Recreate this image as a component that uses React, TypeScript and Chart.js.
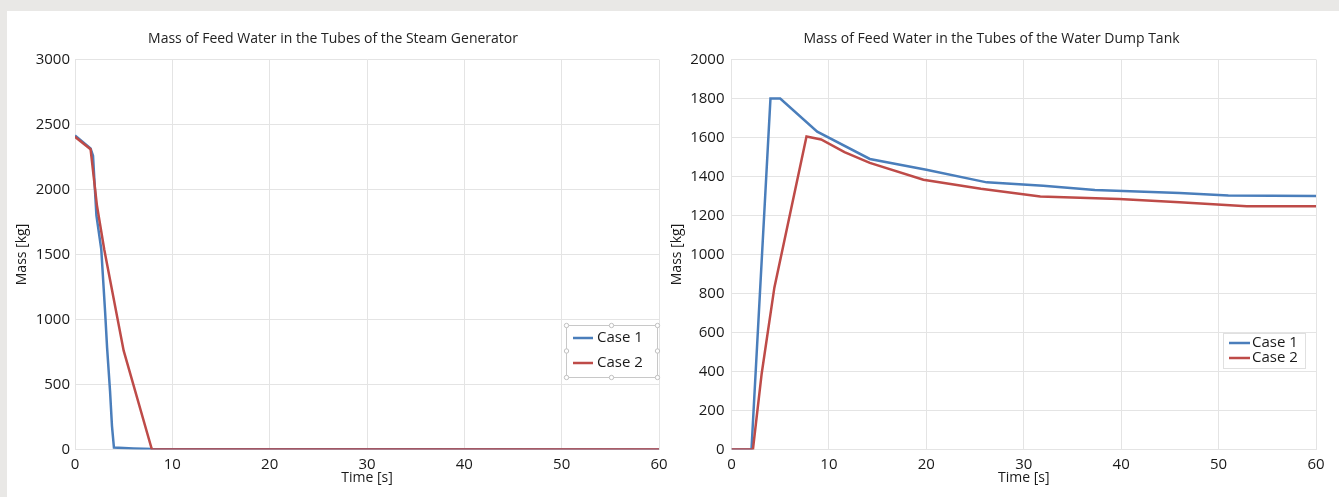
import React, { useEffect, useRef } from "react";
import { Chart, registerables } from "chart.js";

Chart.register(...registerables);

// ---- Data ----
const sgCase1Time = [0, 1.6, 1.85, 2.2, 2.7, 3.1, 3.3, 3.6, 3.8, 4.0, 6, 8, 60];
const sgCase1Mass = [2415, 2315, 2260, 1800, 1540, 1050, 780, 450, 180, 15, 8, 3, 0];
const sgCase2Time = [0, 1.6, 2.25, 3.0, 5.0, 7.9, 60];
const sgCase2Mass = [2405, 2310, 1880, 1540, 760, 0, 0];

const wdCase1Time = [0, 2.05, 4.0, 5.0, 8.8, 14.2, 20, 26.2, 32, 37.3, 46, 51, 60];
const wdCase1Mass = [0, 0, 1800, 1800, 1630, 1490, 1435, 1370, 1352, 1331, 1315, 1303, 1300];
const wdCase2Time = [0, 2.2, 3.1, 4.4, 7.7, 9.2, 11.6, 14.2, 19.7, 25.6, 31.7, 39.8, 46, 52.9, 60];
const wdCase2Mass = [0, 0, 390, 830, 1605, 1590, 1525, 1470, 1383, 1337, 1297, 1285, 1268, 1247, 1247];

const seriesNames = ["Case 1", "Case 2"];
const seriesColors = ["#4a7ebb", "#be4b48"];

const sgTitle = "Mass of Feed Water in the Tubes of the Steam Generator";
const wdTitle = "Mass of Feed Water in the Tubes of the Water Dump Tank";
const xTitle = "Time [s]";
const yTitle = "Mass [kg]";

const toPoints = (t: number[], m: number[]) => t.map((x, i) => ({ x, y: m[i] }));

Chart.defaults.font.family = "'Open Sans', 'Noto Sans', sans-serif";

type LegendCfg = {
  box: [number, number, number, number];
  rows: number[];
  lineX: [number, number];
  textX: number;
  handles: boolean;
  fontSize: number;
};

function legendPlugin(cfg: LegendCfg) {
  return {
    id: "customLegend",
    afterDraw(chart: any) {
      const ctx = chart.ctx as CanvasRenderingContext2D;
      const [bx, by, bw, bh] = cfg.box;
      ctx.save();
      ctx.fillStyle = "#ffffff";
      ctx.fillRect(bx, by, bw, bh);
      ctx.strokeStyle = cfg.handles ? "#c8c8c8" : "#e0e0e0";
      ctx.lineWidth = 1;
      ctx.strokeRect(bx + 0.5, by + 0.5, bw, bh);
      if (cfg.handles) {
        const hx = [bx + 0.5, bx + bw / 2, bx + bw + 0.5];
        const hy = [by + 0.5, by + bh / 2, by + bh + 0.5];
        ctx.fillStyle = "#ffffff";
        ctx.strokeStyle = "#c0c0c0";
        hx.forEach((x, i) =>
          hy.forEach((y, j) => {
            if (i === 1 && j === 1) return;
            ctx.beginPath();
            ctx.arc(x, y, 2.2, 0, Math.PI * 2);
            ctx.fill();
            ctx.stroke();
          })
        );
      }
      ctx.font = `${cfg.fontSize}px 'Open Sans', 'Noto Sans', sans-serif`;
      ctx.textBaseline = "middle";
      ctx.textAlign = "left";
      cfg.rows.forEach((y, i) => {
        ctx.strokeStyle = seriesColors[i];
        ctx.lineWidth = 2.5;
        ctx.beginPath();
        ctx.moveTo(cfg.lineX[0], y);
        ctx.lineTo(cfg.lineX[1], y);
        ctx.stroke();
        ctx.fillStyle = "#1a1a1a";
        ctx.fillText(seriesNames[i], cfg.textX, y);
      });
      ctx.restore();
    },
  };
}

type PanelProps = {
  left: number;
  width: number;
  title: string;
  data1: { x: number; y: number }[];
  data2: { x: number; y: number }[];
  yMax: number;
  yStep: number;
  yAxisWidth: number;
  yTitlePad: number;
  yTickPad: number;
  padRight: number;
  legend: LegendCfg;
};

function Panel(p: PanelProps) {
  const ref = useRef<HTMLCanvasElement | null>(null);
  useEffect(() => {
    if (!ref.current) return;
    const gridColor = "#e4e4e4";
    const chart = new Chart(ref.current, {
      type: "line",
      data: {
        datasets: [
          {
            label: seriesNames[0],
            data: p.data1,
            borderColor: seriesColors[0],
            backgroundColor: seriesColors[0],
            borderWidth: 2.5,
            pointRadius: 0,
            tension: 0,
            order: 1,
          },
          {
            label: seriesNames[1],
            data: p.data2,
            borderColor: seriesColors[1],
            backgroundColor: seriesColors[1],
            borderWidth: 2.5,
            pointRadius: 0,
            tension: 0,
            order: 0,
          },
        ],
      },
      options: {
        responsive: false,
        animation: false,
        layout: { padding: { left: 0, right: p.padRight, top: 0, bottom: 0 } },
        plugins: {
          legend: { display: false },
          tooltip: { enabled: false },
          title: {
            display: true,
            text: p.title,
            color: "#222",
            font: { size: 14, weight: "normal" },
            padding: { top: 20, bottom: 11.7 },
          },
        },
        scales: {
          x: {
            type: "linear",
            min: 0,
            max: 60,
            ticks: {
              stepSize: 10,
              color: "#1a1a1a",
              font: { size: 15 },
              padding: 6,
              maxRotation: 0,
              callback: (v: any) => String(v),
            },
            grid: { color: gridColor, drawTicks: false },
            border: { color: gridColor },
            title: {
              display: true,
              text: xTitle,
              color: "#1a1a1a",
              font: { size: 14 },
              padding: { top: 0, bottom: 10.6 },
            },
            afterFit: (s: any) => {
              s.height = 47.5;
              s.paddingLeft = 0;
              s.paddingRight = 0;
            },
          },
          y: {
            min: 0,
            max: p.yMax,
            ticks: {
              stepSize: p.yStep,
              color: "#1a1a1a",
              font: { size: 15 },
              padding: p.yTickPad,
              callback: (v: any) => String(v),
            },
            grid: { color: gridColor, drawTicks: false },
            border: { color: gridColor },
            title: {
              display: true,
              text: yTitle,
              color: "#1a1a1a",
              font: { size: 14 },
              padding: { top: p.yTitlePad, bottom: 0 },
            },
            afterFit: (s: any) => {
              s.width = p.yAxisWidth;
              s.paddingTop = 0;
              s.paddingBottom = 0;
            },
          },
        },
      } as any,
      plugins: [legendPlugin(p.legend)],
    });
    return () => chart.destroy();
  }, []);
  return (
    <canvas
      ref={ref}
      width={p.width}
      height={486}
      style={{ position: "absolute", left: p.left, top: 11, width: p.width, height: 486 }}
    />
  );
}

export default function App() {
  return (
    <div style={{ position: "fixed", left: 0, top: 0, width: 1339, height: 497, background: "#e9e8e6", overflow: "hidden" }}>
      <div style={{ position: "absolute", left: 7, top: 11, right: 0, bottom: 0, background: "#ffffff" }} />
      <Panel
        left={7}
        width={660}
        title={sgTitle}
        data1={toPoints(sgCase1Time, sgCase1Mass)}
        data2={toPoints(sgCase2Time, sgCase2Mass)}
        yMax={3000}
        yStep={500}
        yAxisWidth={68}
        yTitlePad={6.6}
        yTickPad={5}
        padRight={8}
        legend={{ box: [559, 314, 91, 52], rows: [327, 352], lineX: [566, 586], textX: 590, handles: true, fontSize: 15 }}
      />
      <Panel
        left={667}
        width={672}
        title={wdTitle}
        data1={toPoints(wdCase1Time, wdCase1Mass)}
        data2={toPoints(wdCase2Time, wdCase2Mass)}
        yMax={2000}
        yStep={200}
        yAxisWidth={64.5}
        yTitlePad={1.6}
        yTickPad={7}
        padRight={23}
        legend={{ box: [556, 322, 82, 35], rows: [332, 347], lineX: [562, 583], textX: 585, handles: false, fontSize: 15 }}
      />
    </div>
  );
}
